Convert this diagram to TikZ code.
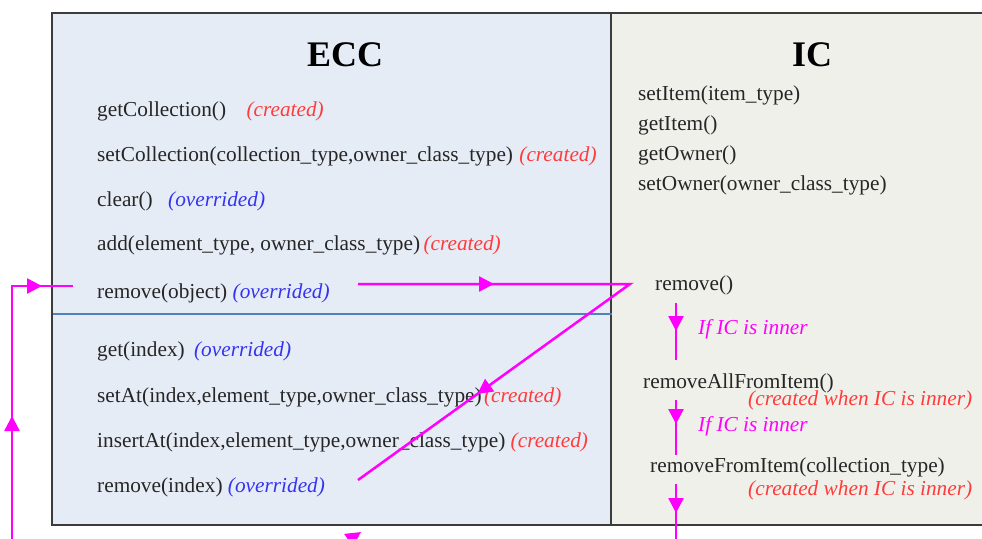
\documentclass[tikz,border=0pt]{standalone}
\usepackage{fontspec}
\setmainfont{Liberation Serif}
\usetikzlibrary{arrows.meta,decorations.markings}

\definecolor{eccfill}{HTML}{E6ECF6}
\definecolor{icfill}{HTML}{F0F0EA}
\definecolor{framegray}{HTML}{3C3C3C}
\definecolor{sepblue}{HTML}{4F81BD}
\definecolor{createdred}{HTML}{FF3B3B}
\definecolor{overblue}{HTML}{3434F0}
\definecolor{flowpink}{HTML}{FF00FF}
\definecolor{ink}{HTML}{262626}

\tikzset{
  method/.style={anchor=west, inner sep=0pt, text=ink,
    font=\fontsize{21.3}{25}\selectfont},
  crt/.style={anchor=west, inner sep=0pt, text=createdred,
    font=\fontsize{21.3}{25}\selectfont\itshape},
  ovr/.style={anchor=west, inner sep=0pt, text=overblue,
    font=\fontsize{21.3}{25}\selectfont\itshape},
  cond/.style={anchor=west, inner sep=0pt, text=flowpink,
    font=\fontsize{21.3}{25}\selectfont\itshape},
  classtitle/.style={inner sep=0pt, text=black,
    font=\fontsize{36}{40}\selectfont\bfseries},
  flowline/.style={draw=flowpink, line width=2.5pt},
  tipat/.style={postaction={decorate, decoration={markings,
    mark=at position #1 with {\arrow{Triangle[length=15pt,width=15pt]}}}}},
  endtip/.style={-{Triangle[length=15pt,width=15pt]}},
}

\begin{document}
\begin{tikzpicture}[x=1pt, y=-1pt]
  \useasboundingbox (0,0) rectangle (982,538);
  \clip (0,0) rectangle (982,538);

  % class panels
  \filldraw[fill=icfill, draw=framegray, line width=2pt] (611,13) rectangle (992,525);
  \filldraw[fill=eccfill, draw=framegray, line width=2pt] (52,13) rectangle (611,525);
  \draw[sepblue, line width=2pt] (53,314) -- (612,314);

  % titles
  \node[classtitle] (ecc) at (345,55) {ECC};
  \node[classtitle] (ic) at (812,55) {IC};

  % ECC methods
  \node[method] (m1) at (97,111) {getCollection()};
  \node[crt] (m1t) at ([xshift=20pt]m1.east) {(created)};
  \node[method] (m2) at (97,156) {setCollection(collection\_type,owner\_class\_type)};
  \node[crt] (m2t) at ([xshift=6pt]m2.east) {(created)};
  \node[method] (m3) at (97,201) {clear()};
  \node[ovr] (m3t) at ([xshift=15pt]m3.east) {(overrided)};
  \node[method] (m4) at (97,245) {add(element\_type, owner\_class\_type)};
  \node[crt] (m4t) at ([xshift=3pt]m4.east) {(created)};
  \node[method] (m5) at (97,293) {remove(object)};
  \node[ovr] (m5t) at ([xshift=5pt]m5.east) {(overrided)};
  \node[method] (m6) at (97,351) {get(index)};
  \node[ovr] (m6t) at ([xshift=9pt]m6.east) {(overrided)};
  \node[method] (m7) at (97,397) {setAt(index,element\_type,owner\_class\_type)};
  \node[crt] (m7t) at ([xshift=2pt]m7.east) {(created)};
  \node[method] (m8) at (97,442) {insertAt(index,element\_type,owner\_class\_type)};
  \node[crt] (m8t) at ([xshift=5pt]m8.east) {(created)};
  \node[method] (m9) at (97,487) {remove(index)};
  \node[ovr] (m9t) at ([xshift=5pt]m9.east) {(overrided)};

  % IC methods
  \node[method] (i1) at (638,95) {setItem(item\_type)};
  \node[method] (i2) at (638,125) {getItem()};
  \node[method] (i3) at (638,155) {getOwner()};
  \node[method] (i4) at (638,185) {setOwner(owner\_class\_type)};
  \node[method] (irm) at (655,285) {remove()};
  \node[cond] (c1) at (698,329) {If IC is inner};
  \node[method] (irall) at (643,383) {removeAllFromItem()};
  \node[crt] (irallt) at (748,400) {(created when IC is inner)};
  \node[cond] (c2) at (698,426) {If IC is inner};
  \node[method] (irfrom) at (650,467) {removeFromItem(collection\_type)};
  \node[crt] (irfromt) at (748,490) {(created when IC is inner)};

  % connector end points
  \coordinate (lb) at (12,560);
  \coordinate (le) at (73,286);
  \coordinate (oa) at (358,284);
  \coordinate (ob) at (630,284);
  \coordinate (oc) at (358,480);
  \coordinate (bt) at (330,553);
  \coordinate (bh) at (361,532);
  \coordinate (a1s) at (676,303);
  \coordinate (a1e) at (676,360);
  \coordinate (a2s) at (676,400);
  \coordinate (a2e) at (676,455);
  \coordinate (a3s) at (676,484);
  \coordinate (a3e) at (676,545);

  % call flow
  \draw[flowline, tipat=144pt, tipat=304pt] (lb) |- (le);
  \draw[flowline, tipat=136pt, tipat=460pt] (oa) -- (ob) -- (oc);
  \draw[flowline, endtip] (bt) -- (bh);
  \draw[flowline, tipat=28pt] (a1s) -- (a1e);
  \draw[flowline, tipat=24pt] (a2s) -- (a2e);
  \draw[flowline, tipat=29pt] (a3s) -- (a3e);
\end{tikzpicture}
\end{document}
